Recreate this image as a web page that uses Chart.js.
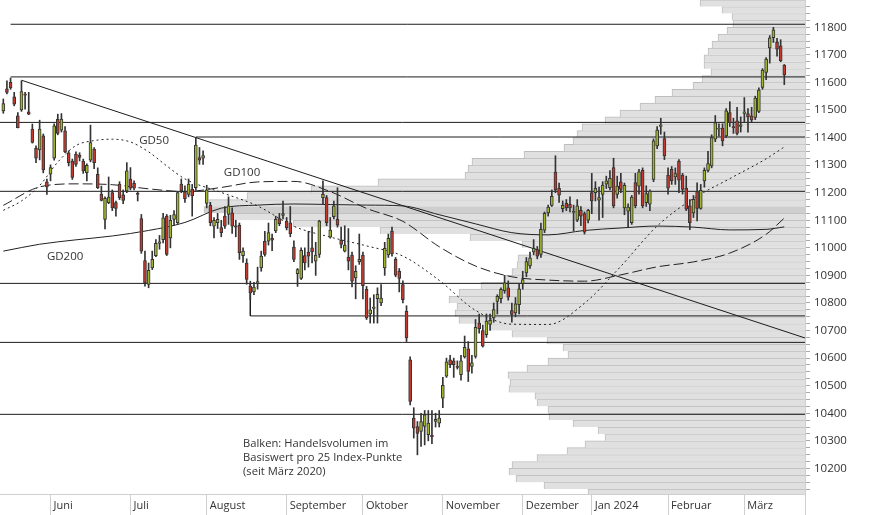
<!DOCTYPE html>
<html>
<head>
<meta charset="utf-8">
<script src="https://cdn.jsdelivr.net/npm/chart.js@4.4.1/dist/chart.umd.min.js"></script>
<style>
  html, body { margin: 0; padding: 0; background: #fff; }
</style>
</head>
<body>
<canvas id="chart" width="874" height="515"></canvas>
<script>
// Kerzen (Handelstage, Index 0 = erster Tag im Bild)
const opens = [11497,11577,11600,11548,11479,11500,11558,11493,11431,11361,11355,11406,11239,11267,11325,11467,11427,11424,11345,11315,11340,11336,11315,11273,11318,11358,11267,11194,11103,11164,11200,11164,11231,11192,11206,11249,11234,11198,
  11106,10954,10867,10927,10972,11016,11030,11115,11036,11103,11091,11231,11203,11194,11212,11218,11327,11325,11161,11154,11079,11091,11073,11115,11121,11127,11080,11082,10972,10945,10861,10840,10870,10927,11024,11024,
  11035,11061,11106,11118,11097,11091,11003,10906,10889,10972,10984,11000,10952,10976,11182,11182,11039,11113,11103,11027,10988,10966,10974,10891,10950,10974,10849,10760,10780,10816,10800,10927,10974,11061,10958,10915,10867,10770,
  10594,10382,10352,10334,10352,10322,10320,10370,10364,10455,10534,10594,10590,10570,10540,10604,10634,10570,10606,10727,10700,10685,10722,10746,10806,10816,10845,10855,10772,10764,10794,10870,10909,10934,10985,10994,10976,
  11064,11127,11154,11275,11216,11142,11161,11158,11128,11100,11136,11124,11100,11200,11200,11173,11194,11231,11218,11291,11194,11239,11145,11133,11091,11237,11224,11281,11164,11158,11248,11370,11440,11396,11264,11285,11257,
  11315,11264,11216,11152,11127,11204,11143,11243,11281,11297,11394,11430,11434,11406,11491,11440,11461,11440,11488,11487,11479,11473,11495,11582,11636,11725,11762,11745,11733,11663];
const highs = [11540,11606,11616,11564,11491,11606,11564,11564,11449,11370,11463,11413,11249,11301,11450,11485,11487,11440,11352,11322,11348,11345,11322,11305,11445,11364,11290,11224,11185,11257,11210,11170,11240,11210,11309,11291,11243,11205,
  11121,10988,10945,10988,11030,11045,11125,11121,11118,11135,11205,11250,11225,11250,11230,11398,11364,11352,11227,11165,11110,11125,11100,11150,11185,11145,11100,11090,11000,10960,10879,10875,10930,10988,11060,11090,
  11050,11115,11125,11170,11110,11150,11025,10925,11000,11000,11060,11075,11020,11100,11243,11190,11110,11170,11218,11075,11080,11070,10985,10935,11050,10985,10860,10818,10830,10855,10867,11020,11050,11075,10965,10925,10880,10790,
  10605,10420,10370,10400,10410,10410,10410,10400,10410,10530,10600,10610,10600,10590,10610,10680,10660,10610,10740,10760,10720,10760,10760,10800,10830,10855,10900,10880,10800,10820,10870,10915,10965,10985,11030,11005,11090,
  11130,11155,11210,11334,11235,11170,11175,11185,11155,11175,11150,11130,11140,11270,11240,11220,11240,11260,11280,11325,11260,11270,11235,11160,11190,11270,11285,11290,11225,11210,11395,11440,11470,11420,11290,11295,11290,
  11320,11270,11260,11175,11190,11236,11230,11290,11350,11410,11480,11450,11450,11505,11530,11470,11510,11475,11545,11505,11510,11550,11580,11650,11690,11770,11800,11760,11755,11665];
const lows = [11488,11558,11575,11515,11435,11495,11503,11483,11380,11309,11319,11272,11194,11243,11318,11410,11420,11345,11297,11248,11295,11315,11270,11243,11312,11287,11215,11170,11069,11160,11135,11115,11175,11160,11200,11210,11210,11170,
  10980,10861,10855,10921,10968,10995,11018,10972,11000,11080,11088,11200,11165,11185,11115,11210,11303,11303,11145,11080,11036,11070,11040,11070,11085,11052,11040,10958,10947,10868,10812,10830,10850,10915,10970,11010,
  10990,11055,11080,11105,11065,11040,10950,10860,10885,10920,10930,10945,10900,10965,11160,11080,11035,11105,11075,11000,10985,10920,10858,10815,10940,10815,10740,10727,10727,10727,10790,10900,10965,10970,10895,10840,10800,10660,
  10430,10310,10249,10280,10285,10300,10290,10350,10350,10420,10530,10565,10530,10560,10520,10600,10515,10545,10600,10690,10640,10675,10700,10730,10760,10800,10835,10810,10730,10750,10760,10850,10895,10925,10975,10960,10965,
  11055,11115,11150,11200,11165,11130,11135,11130,11061,11095,11080,11050,11090,11124,11170,11100,11110,11215,11210,11145,11180,11200,11120,11076,11085,11145,11195,11145,11150,11135,11240,11360,11412,11320,11195,11230,11230,
  11200,11195,11135,11066,11110,11098,11140,11220,11275,11290,11385,11405,11370,11400,11440,11415,11410,11420,11455,11420,11455,11465,11490,11575,11610,11670,11745,11695,11675,11592];
const closes = [11523,11564,11580,11521,11436,11567,11554,11485,11382,11325,11431,11283,11221,11291,11443,11415,11467,11348,11309,11255,11303,11328,11279,11299,11382,11309,11218,11172,11180,11184,11145,11143,11182,11172,11279,11216,11216,11194,
  10988,10873,10918,10958,11016,11022,11109,10976,11100,11121,11200,11206,11178,11231,11188,11373,11318,11335,11210,11091,11100,11103,11055,11079,11152,11079,11075,10982,10988,10885,10836,10858,10878,10970,10976,11055,
  11028,11103,11088,11124,11073,11051,10958,10921,10991,10945,10970,10985,10974,11097,11194,11091,11064,11152,11082,11012,11010,10952,10879,10915,10958,10863,10746,10775,10785,10831,10818,10998,11034,10978,10901,10889,10812,10673,
  10443,10346,10327,10370,10394,10364,10315,10378,10382,10501,10586,10576,10576,10566,10590,10639,10552,10583,10712,10707,10643,10734,10737,10776,10824,10849,10873,10821,10758,10797,10851,10885,10950,10964,10998,10970,11067,
  11125,11148,11187,11209,11191,11154,11145,11145,11132,11152,11115,11057,11136,11170,11216,11182,11228,11243,11252,11152,11224,11212,11227,11148,11184,11152,11276,11152,11197,11206,11388,11427,11445,11333,11216,11243,11269,
  11245,11212,11140,11091,11176,11143,11209,11281,11306,11400,11454,11433,11388,11497,11454,11436,11415,11446,11493,11475,11464,11543,11572,11645,11685,11762,11791,11721,11679,11627];

// gleitende Durchschnitte (Stützstellen: Handelstag-Index -> Wert)
const gd50Idx = [0,5,10,15,20,25,30,35,40,45,50,60,70,80,90,100,110,120,130,140,150,160,170,180,190,200,210,215];
const gd50 = [11136,11170,11226,11311,11371,11389,11394,11384,11348,11297,11250,11201,11152,11078,11039,11007,10970,10882,10773,10723,10722,10799,10933,11079,11179,11251,11323,11366];
const gd100Idx = [0,10,20,30,40,50,60,70,80,90,100,110,120,130,140,150,160,170,180,190,200,210,215];
const gd100 = [11154,11221,11232,11229,11214,11204,11219,11239,11241,11204,11143,11096,11004,10934,10895,10883,10879,10902,10931,10949,10981,11049,11108];
const gd200Idx = [0,10,20,30,40,50,60,70,80,90,100,110,120,130,140,150,160,170,180,190,200,210,215];
const gd200 = [10988,11013,11029,11043,11063,11092,11144,11155,11159,11157,11155,11152,11120,11087,11055,11047,11063,11072,11079,11075,11065,11067,11076];

// Trendlinie
const trendIdx = [5, 220.7];
const trendVals = [11608, 10673];

// horizontale Marken
const hLevels = [11811, 11620, 11455, 11402, 11205, 10871, 10657, 10396];
const hStartIdx = [2, 2, -0.91, 53, -0.91, -0.91, -0.91, -0.91];
const stepIdx = [68, 68, 220.7];
const stepVals = [10871, 10753, 10753];

// Volumenprofil (untere Grenze der 25-Punkte-Stufe -> relatives Volumen)
const profileLevels = [10100,10125,10150,10175,10200,10225,10250,10275,10300,10325,10350,10375,10400,10425,10450,10475,10500,10525,10550,10575,
  10600,10625,10650,10675,10700,10725,10750,10775,10800,10825,10850,10875,10900,10925,10950,10975,11000,11025,11050,11075,
  11100,11125,11150,11175,11200,11225,11250,11275,11300,11325,11350,11375,11400,11425,11450,11475,11500,11525,11550,11575,
  11600,11625,11650,11675,11700,11725,11750,11775,11800,11825,11850,11875];
const profileVolume = [217,261,289,296,293,268,238,220,200,207,232,256,257,268,270,296,295,297,278,257,
  237,242,258,293,315,346,350,348,356,346,324,301,293,288,287,272,283,335,425,512,
  575,601,596,558,494,427,340,337,333,281,241,232,228,223,200,185,165,150,133,112,
  103,94,101,101,97,93,87,78,72,73,83,105];

// Achsen
const monthTicks = [13, 35, 56, 78, 99, 121, 143, 162, 183, 204, 220.7];
const monthNames = ['Juni','Juli','August','September','Oktober','November','Dezember','Jan 2024','Februar','März',''];
const yTickValues = [];
for (let v = 10125; v <= 11875; v += 25) yTickValues.push(v);

const xMin = -0.91, xMax = 220.7, yMin = 10107, yMax = 11899;

const FONT = '"Open Sans", "Noto Sans", sans-serif';
const TEXT = '#333333';
const GREEN = '#a1b52c';
const RED = '#c33a2d';
const EDGE = '#333333';

const idx = opens.map((_, i) => i);
const maxVol = Math.max(...profileVolume);

const datasets = [];

datasets.push({
  type: 'bar',
  indexAxis: 'y',
  xAxisID: 'xv',
  yAxisID: 'yp',
  data: profileLevels.map((p, i) => ({ y: p + 12.5, x: profileVolume[i] })),
  backgroundColor: profileVolume.map(v => v === maxVol ? '#cecece' : '#e0e0e0'),
  borderColor: '#bdbdbd',
  borderWidth: { top: 1, left: 1, right: 0, bottom: 0 },
  borderSkipped: false,
  barPercentage: 1,
  categoryPercentage: 1,
  grouped: false,
  order: 20
});

hLevels.forEach((lvl, i) => {
  datasets.push({
    type: 'line',
    data: [{ x: hStartIdx[i], y: lvl }, { x: xMax, y: lvl }],
    borderColor: '#1c1c1c', borderWidth: 1, pointRadius: 0, order: 8
  });
});
datasets.push({
  type: 'line',
  data: stepIdx.map((k, i) => ({ x: k, y: stepVals[i] })),
  borderColor: '#1c1c1c', borderWidth: 1, pointRadius: 0, order: 8
});
datasets.push({
  type: 'line',
  data: trendIdx.map((k, i) => ({ x: k, y: trendVals[i] })),
  borderColor: '#1c1c1c', borderWidth: 1, pointRadius: 0, order: 7
});

const maLine = (ks, vals, dash) => ({
  type: 'line',
  data: ks.map((k, i) => ({ x: k, y: vals[i] })),
  borderColor: '#222', borderWidth: 1, borderDash: dash,
  pointRadius: 0, cubicInterpolationMode: 'monotone', order: 6
});
datasets.push(maLine(gd50Idx, gd50, [2, 3]));
datasets.push(maLine(gd100Idx, gd100, [10, 4]));
datasets.push(maLine(gd200Idx, gd200, []));

// Dochte
datasets.push({
  type: 'bar',
  data: idx.map(i => ({ x: i, y: [lows[i], highs[i]] })),
  backgroundColor: EDGE,
  barThickness: 1,
  grouped: false,
  order: 2
});
// Körper
datasets.push({
  type: 'bar',
  data: idx.map(i => ({ x: i, y: [opens[i], closes[i]] })),
  backgroundColor: idx.map(i => closes[i] >= opens[i] ? GREEN : RED),
  borderColor: EDGE,
  borderWidth: 1,
  borderSkipped: false,
  barThickness: 3,
  minBarLength: 1,
  grouped: false,
  order: 1
});

const textLabels = {
  id: 'textLabels',
  afterDatasetsDraw(chart) {
    const { ctx, scales: { x, y } } = chart;
    ctx.save();
    ctx.fillStyle = TEXT;
    ctx.font = '11.5px ' + FONT;
    ctx.textBaseline = 'alphabetic';
    ctx.textAlign = 'left';
    ctx.fillText('GD50', x.getPixelForValue(37.4), y.getPixelForValue(11377));
    ctx.fillText('GD100', x.getPixelForValue(60.7), y.getPixelForValue(11261));
    ctx.fillText('GD200', x.getPixelForValue(12.0), y.getPixelForValue(10956));
    ctx.font = '11.2px ' + FONT;
    const ax = x.getPixelForValue(66.0);
    const ay = y.getPixelForValue(10278);
    ['Balken: Handelsvolumen im', 'Basiswert pro 25 Index-Punkte', '(seit März 2020)']
      .forEach((t, i) => ctx.fillText(t, ax, ay + i * 14));
    ctx.restore();
  }
};

new Chart(document.getElementById('chart').getContext('2d'), {
  data: { datasets },
  options: {
    responsive: false,
    devicePixelRatio: 1,
    animation: false,
    events: [],
    layout: { padding: 0 },
    plugins: { legend: { display: false }, tooltip: { enabled: false } },
    scales: {
      x: {
        type: 'linear', position: 'bottom', min: xMin, max: xMax, offset: false,
        afterBuildTicks: s => { s.ticks = monthTicks.map(v => ({ value: v })); },
        afterFit: s => { s.height = 21; s.paddingLeft = 0; s.paddingRight = 0; },
        ticks: {
          autoSkip: false, maxRotation: 0, align: 'start', labelOffset: 3, padding: -16,
          color: TEXT, font: { family: FONT, size: 11 },
          callback: (v, i) => monthNames[i] || ''
        },
        grid: { drawOnChartArea: false, offset: false, tickLength: 21, color: '#cfcfcf', tickColor: '#cfcfcf' },
        border: { color: '#cfcfcf' }
      },
      xv: { type: 'linear', display: false, offset: false, reverse: true, min: 0, max: 805 },
      y: {
        type: 'linear', position: 'right', min: yMin, max: yMax, offset: false,
        afterBuildTicks: s => { s.ticks = yTickValues.map(v => ({ value: v })); },
        afterFit: s => { s.width = 69; s.paddingTop = 0; s.paddingBottom = 0; },
        ticks: {
          autoSkip: false, padding: 4, color: TEXT, font: { family: FONT, size: 11.5 },
          callback: v => (v % 100 === 0 && v >= 10200 && v <= 11800) ? String(v) : ''
        },
        grid: { drawOnChartArea: false, tickLength: 5, tickColor: '#a8a8a8' },
        border: { color: '#cfcfcf' }
      },
      yp: { type: 'linear', display: false, offset: false, min: yMin, max: yMax }
    }
  },
  plugins: [textLabels]
});
</script>
</body>
</html>
